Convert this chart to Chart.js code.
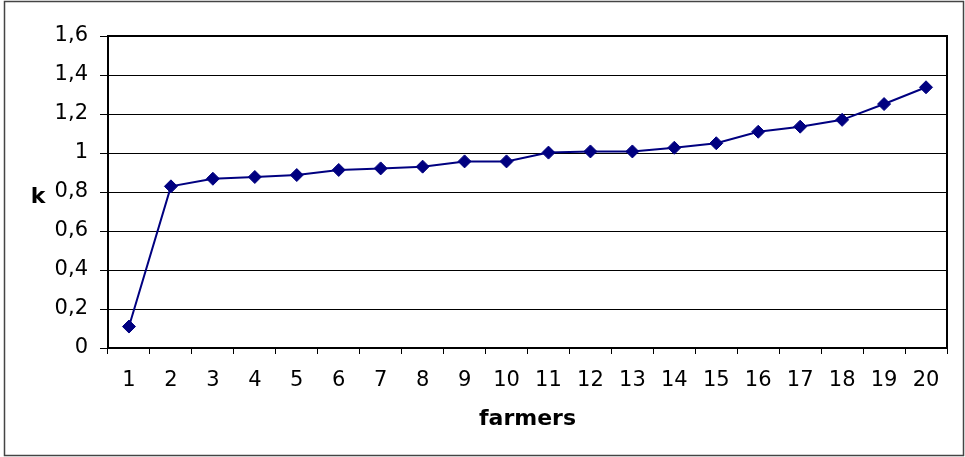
<!DOCTYPE html>
<html>
<head>
<meta charset="utf-8">
<script src="https://cdn.jsdelivr.net/npm/chart.js@4.4.0/dist/chart.umd.min.js"></script>
<style>
  html, body { margin: 0; padding: 0; background: #fff; }
  #wrap { width: 965px; height: 457px; position: relative; }
</style>
</head>
<body>
<div id="wrap"><canvas id="c" width="965" height="457"></canvas></div>
<script>
const categories = ['1','2','3','4','5','6','7','8','9','10','11','12','13','14','15','16','17','18','19','20'];
const kValues = [0.11, 0.829, 0.868, 0.877, 0.887, 0.913, 0.921, 0.930, 0.957, 0.957, 1.002, 1.008, 1.008, 1.027, 1.050, 1.109, 1.135, 1.170, 1.251, 1.337];
const yTickLabels = ['0','0,2','0,4','0,6','0,8','1','1,2','1,4','1,6'];
const xTitle = 'farmers';
const yTitle = 'k';

const FONT = 'DejaVu Sans';

const framePlugin = {
  id: 'frame',
  beforeDatasetsDraw(chart) {
    const {ctx, chartArea: a} = chart;
    ctx.save();
    ctx.strokeStyle = '#000';
    ctx.lineWidth = 2;
    ctx.strokeRect(a.left, a.top, a.right - a.left, a.bottom - a.top);
    ctx.restore();
  },
  afterDraw(chart) {
    const {ctx, chartArea: a} = chart;
    ctx.save();
    // outer border
    ctx.strokeStyle = '#444';
    ctx.lineWidth = 1.5;
    ctx.strokeRect(4.5, 1.5, 959, 454);
    // horizontal y-axis title
    ctx.fillStyle = '#000';
    ctx.font = 'bold 22px "' + FONT + '"';
    ctx.textAlign = 'center';
    ctx.textBaseline = 'middle';
    ctx.fillText(yTitle, 38, (a.top + a.bottom) / 2 + 5);
    ctx.restore();
  }
};

new Chart(document.getElementById('c'), {
  type: 'line',
  data: {
    labels: categories,
    datasets: [{
      data: kValues,
      borderColor: '#000080',
      backgroundColor: '#000080',
      borderWidth: 2,
      pointStyle: 'rectRot',
      pointRadius: 6.5,
      pointHoverRadius: 6.5,
      pointBorderWidth: 1,
      pointBackgroundColor: '#000080',
      pointBorderColor: '#000080',
      tension: 0,
      fill: false,
      clip: false
    }]
  },
  options: {
    responsive: false,
    animation: false,
    devicePixelRatio: 1,
    layout: { padding: { top: 36, right: 18, left: 0, bottom: 0 } },
    plugins: { legend: { display: false }, tooltip: { enabled: false } },
    scales: {
      x: {
        type: 'category',
        offset: true,
        grid: { offset: true, drawOnChartArea: false, drawTicks: true, tickLength: 6, color: '#000', lineWidth: 1 },
        border: { display: true, color: '#000', width: 2 },
        ticks: { color: '#000', font: { family: FONT, size: 21 }, padding: 14, maxRotation: 0, autoSkip: false },
        title: { display: true, text: xTitle, color: '#000', font: { family: FONT, size: 22, weight: 'bold' }, padding: { top: 0, bottom: 25 } },
        afterFit(scale) { scale.height = 109; }
      },
      y: {
        min: 0,
        max: 1.6,
        ticks: {
          stepSize: 0.2,
          color: '#000',
          font: { family: FONT, size: 21 },
          padding: 12,
          callback: (v, i) => yTickLabels[i]
        },
        grid: { color: '#000', lineWidth: 1, drawTicks: true, tickLength: 8 },
        border: { display: true, color: '#000', width: 2 },
        afterFit(scale) { scale.width = 108; }
      }
    }
  },
  plugins: [framePlugin]
});
</script>
</body>
</html>
